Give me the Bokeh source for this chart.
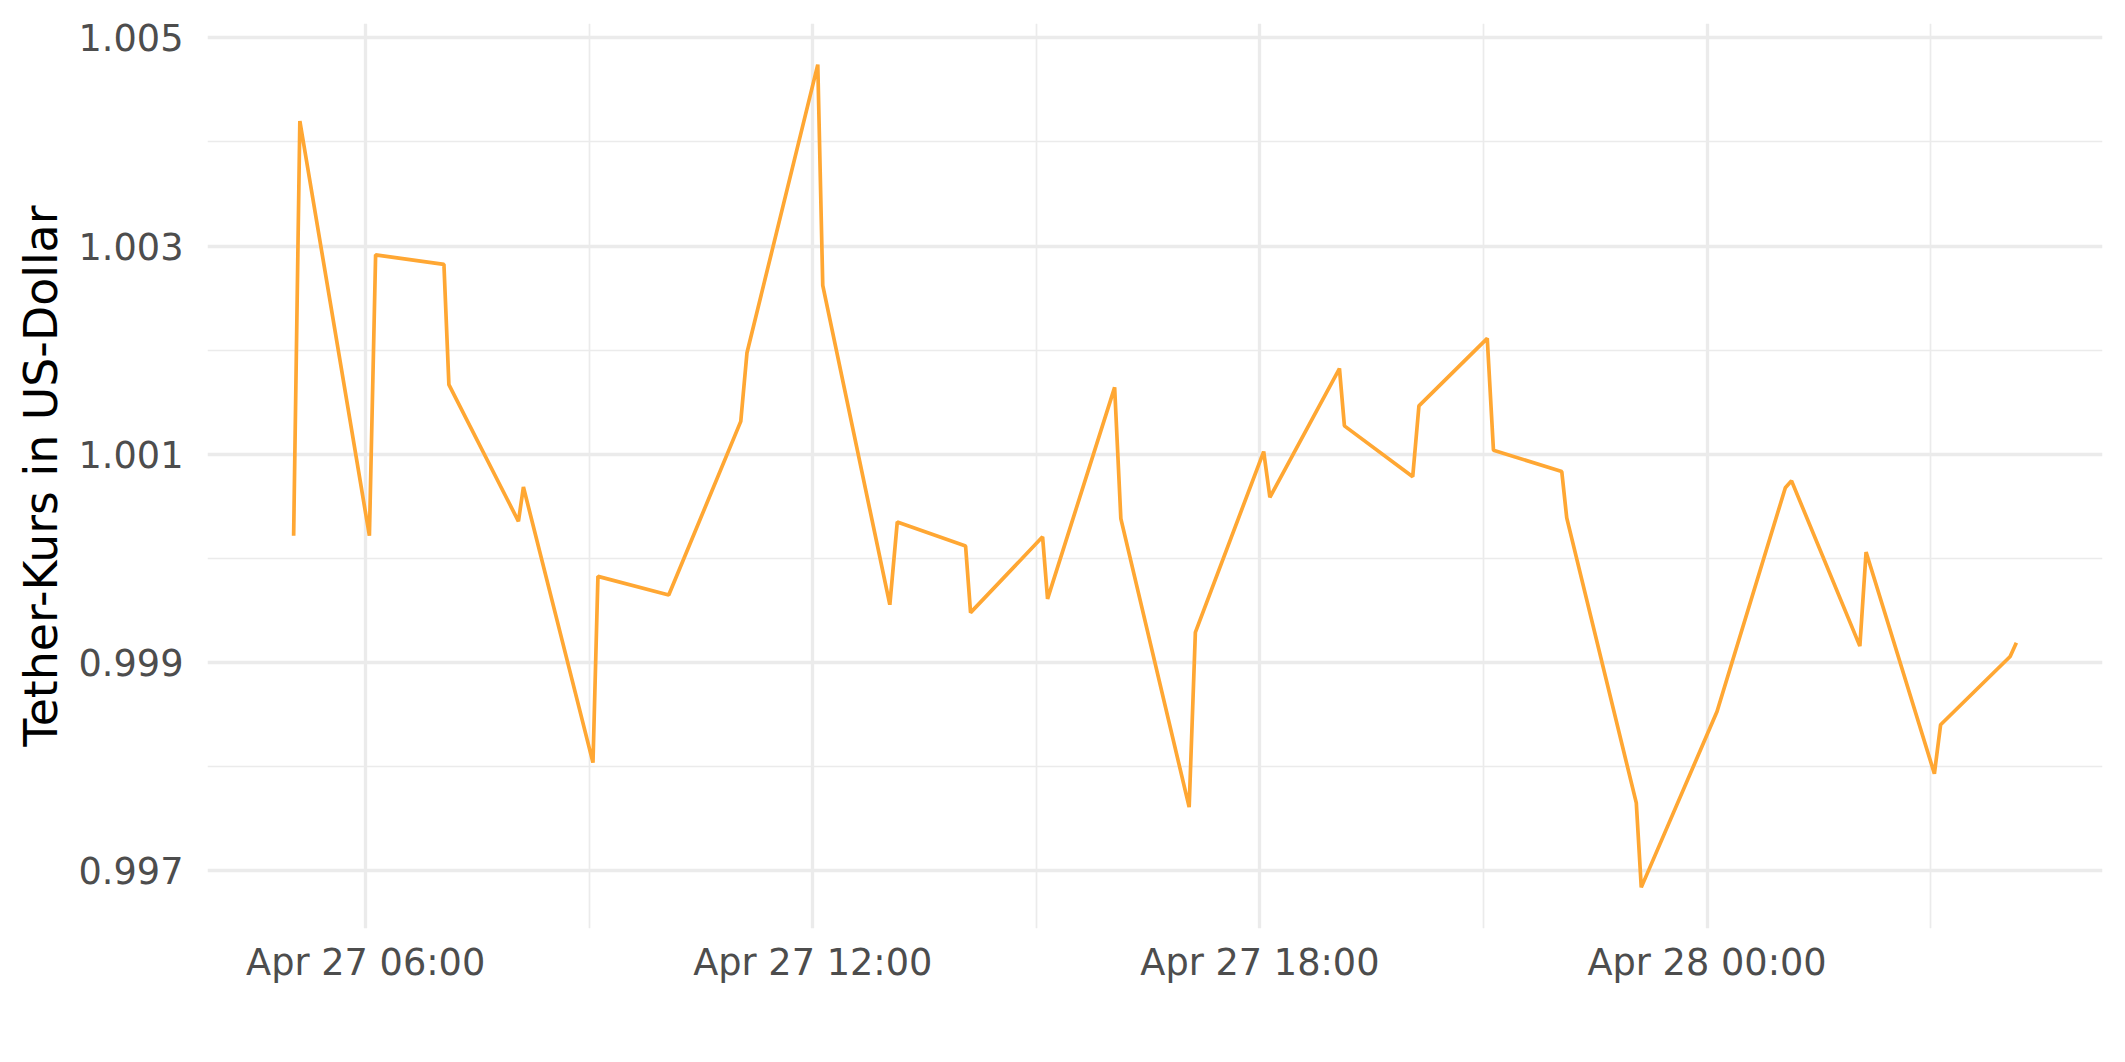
import pandas as pd
from bokeh.plotting import figure
from bokeh.models import FixedTicker, DatetimeTickFormatter, PrintfTickFormatter, Range1d
from bokeh.embed import file_html
from bokeh.resources import INLINE

# ---- data ----
times = [
    "2022-04-27 05:02", "2022-04-27 05:07", "2022-04-27 06:03", "2022-04-27 06:08",
    "2022-04-27 07:03", "2022-04-27 07:07", "2022-04-27 08:03", "2022-04-27 08:07",
    "2022-04-27 09:03", "2022-04-27 09:07", "2022-04-27 10:04", "2022-04-27 11:02",
    "2022-04-27 11:07", "2022-04-27 12:04", "2022-04-27 12:08", "2022-04-27 13:02",
    "2022-04-27 13:08", "2022-04-27 14:03", "2022-04-27 14:07", "2022-04-27 15:05",
    "2022-04-27 15:09", "2022-04-27 16:03", "2022-04-27 16:08", "2022-04-27 17:03",
    "2022-04-27 17:08", "2022-04-27 18:03", "2022-04-27 18:08", "2022-04-27 19:04",
    "2022-04-27 19:08", "2022-04-27 20:03", "2022-04-27 20:08", "2022-04-27 21:03",
    "2022-04-27 21:08", "2022-04-27 22:03", "2022-04-27 22:07", "2022-04-27 23:03",
    "2022-04-27 23:07", "2022-04-28 00:08", "2022-04-28 01:03", "2022-04-28 01:08",
    "2022-04-28 02:03", "2022-04-28 02:08", "2022-04-28 03:03", "2022-04-28 03:08",
    "2022-04-28 04:04", "2022-04-28 04:09",
]
price = [
    1.000217, 1.004202, 1.000217, 1.002916,
    1.002824, 1.001669, 1.000356, 1.000686,
    0.998038, 0.999827, 0.999648, 1.001316,
    1.001976, 1.004743, 1.002623, 0.999555,
    1.000350, 1.000118, 0.999479, 1.000207,
    0.999611, 1.001643, 1.000382, 0.997611,
    0.999290, 1.001026, 1.000587, 1.001824,
    1.001273, 1.000785, 1.001465, 1.002114,
    1.001039, 1.000834, 1.000389, 0.997651,
    0.996840, 0.998529, 1.000679, 1.000745,
    0.999157, 1.000061, 0.997932, 0.998402,
    0.999058, 0.999190,
]
x_major = ["2022-04-27 06:00", "2022-04-27 12:00", "2022-04-27 18:00", "2022-04-28 00:00"]
x_minor = ["2022-04-27 09:00", "2022-04-27 15:00", "2022-04-27 21:00", "2022-04-28 03:00"]
y_major = [0.997, 0.999, 1.001, 1.003, 1.005]
y_minor = [0.998, 1.000, 1.002, 1.004]
y_title = "Tether-Kurs in US-Dollar"

def to_ms(lst):
    return [pd.Timestamp(t).value / 1e6 for t in lst]

xs = to_ms(times)
x0, x1 = min(xs), max(xs)
xpad = (x1 - x0) * 0.05
y0, y1 = min(price), max(price)
ypad = (y1 - y0) * 0.05

p = figure(width=2118, height=1054, x_axis_type="datetime",
           output_backend="svg", toolbar_location=None,
           x_range=Range1d(x0 - xpad, x1 + xpad),
           y_range=Range1d(y0 - ypad, y1 + ypad),
           min_border_left=207, min_border_right=16,
           min_border_top=23, min_border_bottom=126)
p.outline_line_color = None
p.background_fill_color = "white"
p.border_fill_color = "white"

p.line(xs, price, line_color="#FFA733", line_width=3.7)

# ticks
p.xaxis.ticker = FixedTicker(ticks=to_ms(x_major), minor_ticks=to_ms(x_minor))
fmt = "%b %d %H:%M"
p.xaxis.formatter = DatetimeTickFormatter(
    microseconds=fmt, milliseconds=fmt, seconds=fmt, minsec=fmt, minutes=fmt,
    hourmin=fmt, hours=fmt, days=fmt, months=fmt, years=fmt)
p.yaxis.ticker = FixedTicker(ticks=y_major, minor_ticks=y_minor)
p.yaxis.formatter = PrintfTickFormatter(format="%.3f")

for ax in (p.xaxis, p.yaxis):
    ax.axis_line_color = None
    ax.major_tick_line_color = None
    ax.minor_tick_line_color = None
    ax.major_tick_out = 0
    ax.major_tick_in = 0
    ax.minor_tick_out = 0
    ax.minor_tick_in = 0
    ax.major_label_text_font = "DejaVu Sans"
    ax.major_label_text_font_size = "36.7px"
    ax.major_label_text_color = "#4D4D4D"

p.xaxis.major_label_standoff = 12
p.yaxis.major_label_standoff = 24
p.yaxis.axis_label = y_title
p.yaxis.axis_label_text_font = "DejaVu Sans"
p.yaxis.axis_label_text_font_size = "45.8px"
p.yaxis.axis_label_text_font_style = "normal"
p.yaxis.axis_label_text_color = "black"
p.yaxis.axis_label_standoff = 7

for g in (p.xgrid, p.ygrid):
    g.grid_line_color = "#EBEBEB"
    g.grid_line_width = 3.3
    g.minor_grid_line_color = "#EBEBEB"
    g.minor_grid_line_width = 1.7

open("out.html", "w").write(file_html(p, INLINE))
